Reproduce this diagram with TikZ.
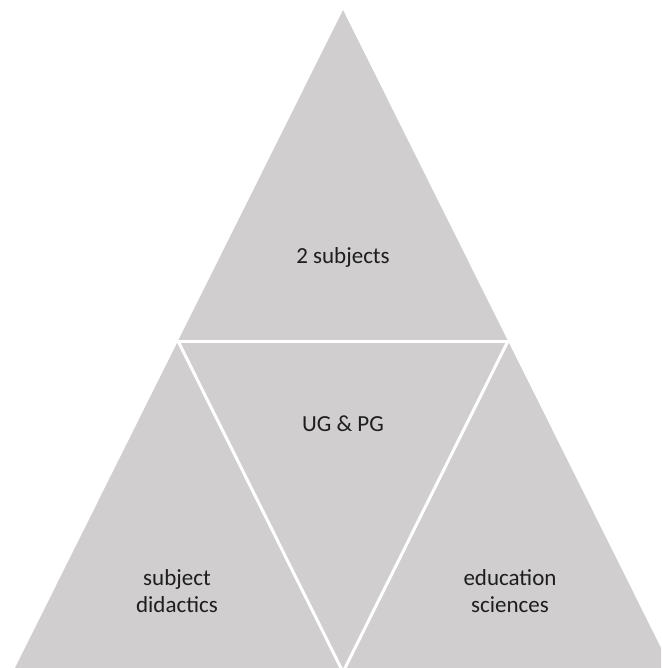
\documentclass[tikz,border=0pt]{standalone}
\usepackage{fontspec}
\setmainfont{Carlito}
\definecolor{tribg}{RGB}{208,206,206}
\definecolor{txtgray}{RGB}{30,30,30}
\tikzset{
  part/.style={fill=tribg},
  gap/.style={draw=white, line width=3pt},
  label/.style={align=center, text=txtgray, font=\fontsize{23}{27}\selectfont}
}
\begin{document}
\begin{tikzpicture}[x=1pt,y=-1pt]
\useasboundingbox (0,0) rectangle (661,668);
\clip (0,0) rectangle (661,668);

\coordinate (top) at (343,10);
\coordinate (ml) at (178,341);
\coordinate (mr) at (508,341);
\coordinate (bl) at (13,672);
\coordinate (bm) at (343,672);
\coordinate (br) at (673,672);

% outer triangle, then the white gaps between the four parts
\fill[part] (top) -- (bl) -- (br) -- cycle;
\draw[gap] (ml) -- (mr);
\draw[gap] (ml) -- (bm) -- (mr);

\node[label] (subj) at (343,257) {2 subjects};
\node[label] (ugpg) at (343,424) {UG \& PG};
\node[label] (did) at (177,591) {subject\\didactics};
\node[label] (edu) at (510,591) {education\\sciences};
\end{tikzpicture}
\end{document}
